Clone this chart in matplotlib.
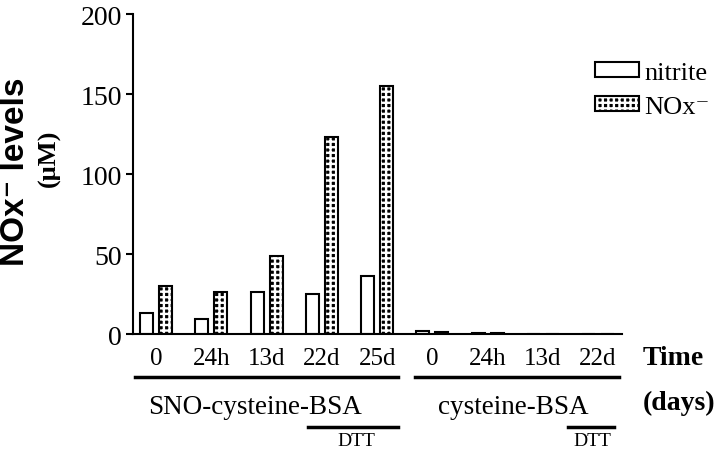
import numpy as np
import matplotlib
matplotlib.use("Agg")
import matplotlib.pyplot as plt
import matplotlib.transforms as mtrans
from matplotlib.patches import Patch

# values (uM)
categories = ['0', '24h', '13d', '22d', '25d', '0', '24h', '13d', '22d']
nitrite = [13, 9.5, 26, 25, 36, 2, 0.5, 0, 0]
nox = [30, 26, 49, 123, 155, 1.2, 0.6, 0, 0]
yticks = [0, 50, 100, 150, 200]

serif = ['Liberation Serif', 'DejaVu Serif']
sans = ['Liberation Sans', 'DejaVu Sans']
plt.rcParams['font.family'] = serif
plt.rcParams['hatch.linewidth'] = 1.7

fig = plt.figure(figsize=(7.2, 4.52), dpi=100)
ax = fig.add_axes([0.1847, 0.2588, 0.679, 0.708])

x = np.arange(len(categories))
w = 0.235
ax.bar(x - 0.172, nitrite, w, facecolor='white', edgecolor='black', linewidth=1.5)
# dotted fill: black face with a white grid, then a black outline on top
ax.bar(x + 0.172, nox, w, facecolor='black', edgecolor='white', linewidth=0,
       hatch='+++')
ax.bar(x + 0.172, nox, w, facecolor='none', edgecolor='black', linewidth=1.5)

ax.set_xlim(-0.42, 8.43)
ax.set_ylim(0, 200)
ax.set_yticks(yticks)
ax.tick_params(axis='y', labelsize=20, length=5, width=1.5, direction='out', pad=3)
ax.set_xticks(x)
ax.set_xticklabels(categories)
ax.tick_params(axis='x', labelsize=18, length=0, pad=9)
for s in ['top', 'right']:
    ax.spines[s].set_visible(False)
for s in ['left', 'bottom']:
    ax.spines[s].set_linewidth(1.5)

# group brackets under the axis
tr = mtrans.blended_transform_factory(ax.transData, ax.transAxes)
ax.plot([-0.38, 4.38], [-0.134, -0.134], color='black', lw=2.5, transform=tr, clip_on=False)
ax.plot([4.69, 8.37], [-0.134, -0.134], color='black', lw=2.5, transform=tr, clip_on=False)
ax.plot([2.74, 4.37], [-0.29, -0.29], color='black', lw=2.5, transform=tr, clip_on=False)
ax.plot([7.46, 8.28], [-0.29, -0.29], color='black', lw=2.5, transform=tr, clip_on=False)
ax.text(1.79, -0.225, 'SNO-cysteine-BSA', transform=tr, ha='center', va='center', fontsize=19.5)
ax.text(6.47, -0.225, 'cysteine-BSA', transform=tr, ha='center', va='center', fontsize=19.5)
ax.text(3.62, -0.333, 'DTT', transform=tr, ha='center', va='center', fontsize=14)
ax.text(7.9, -0.333, 'DTT', transform=tr, ha='center', va='center', fontsize=14)
ax.text(8.8, -0.072, 'Time', transform=tr, ha='left', va='center', fontsize=20,
        fontweight='bold')
ax.text(8.8, -0.215, '(days)', transform=tr, ha='left', va='center', fontsize=20,
        fontweight='bold')

# y label in two parts
fig.text(0.022, 0.62, 'NOx\u207b levels', rotation=90, ha='center', va='center',
         fontsize=24, fontweight='bold', family=sans)
fig.text(0.068, 0.65, '(\u03bcM)', rotation=90, ha='center', va='center',
         fontsize=19, fontweight='bold')

plain = Patch(facecolor='white', edgecolor='black', linewidth=1.5)
dotted = (Patch(facecolor='black', edgecolor='white', linewidth=0, hatch='+++'),
          Patch(facecolor='none', edgecolor='black', linewidth=1.5))
ax.legend([plain, dotted], ['nitrite', 'NOx\u207b'], loc='upper left',
          bbox_to_anchor=(0.946, 0.85), frameon=False,
          prop={'family': serif, 'size': 19},
          handlelength=1.65, handleheight=0.5, handletextpad=0.2, labelspacing=0.45,
          borderaxespad=0, borderpad=0)

fig.savefig('out.png', dpi=100)
